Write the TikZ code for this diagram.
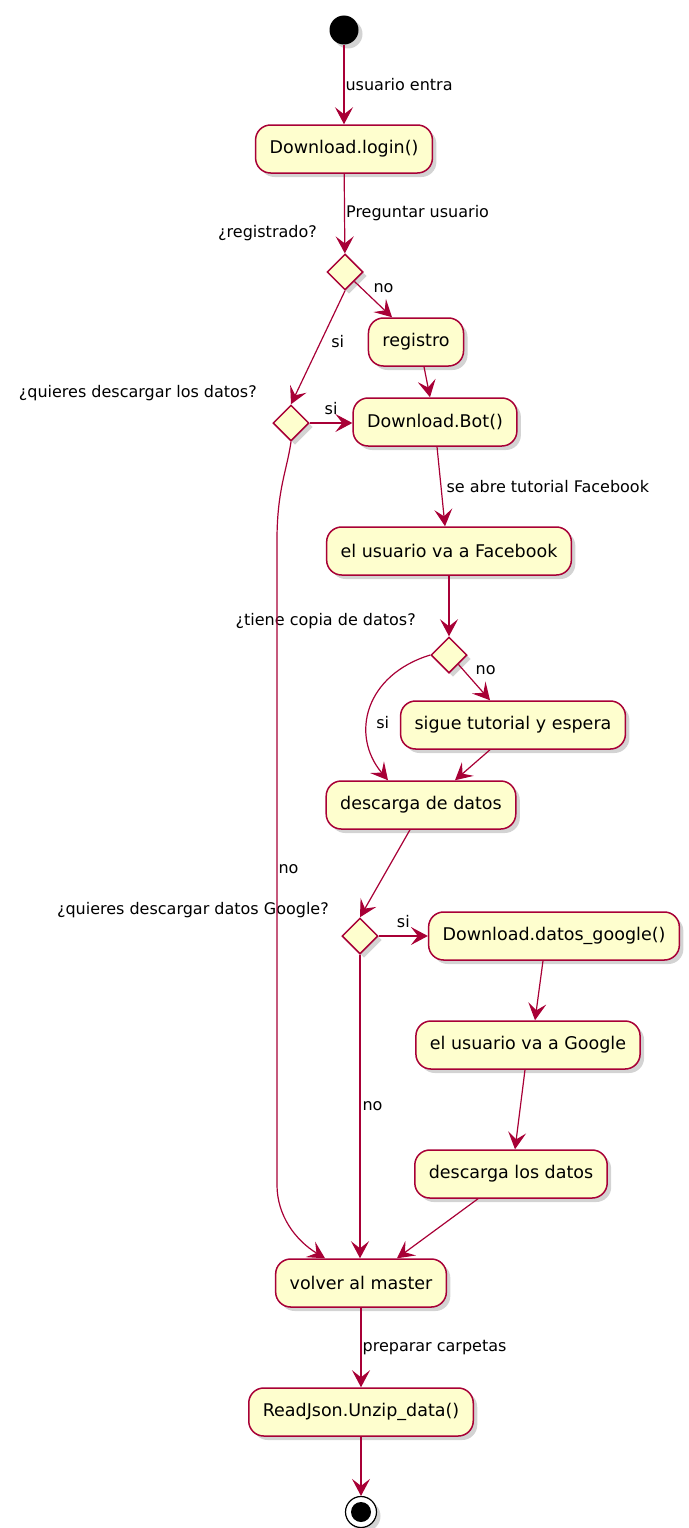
\documentclass[tikz,border=0pt]{standalone}
\usepackage{fontspec}
\setmainfont{DejaVu Sans}
\usetikzlibrary{arrows.meta,shapes.geometric,shadows}
\definecolor{umlred}{HTML}{A80036}
\definecolor{umlfill}{HTML}{FEFECE}
\newcommand{\actfont}{\fontsize{17.5}{21}\selectfont}
\newcommand{\lblfont}{\fontsize{16}{19}\selectfont}

\begin{document}
\begin{tikzpicture}[x=1pt, y=-1pt,
    shade/.style={drop shadow={shadow xshift=4pt, shadow yshift=-4pt, opacity=0.35}},
    act/.style={draw=umlred, fill=umlfill, line width=1.5pt, rounded corners=15pt,
        minimum height=48pt, inner xsep=14pt, font=\actfont, shade},
    dec/.style={diamond, draw=umlred, fill=umlfill, line width=1.5pt,
        minimum width=36pt, minimum height=36pt, inner sep=0pt, shade},
    begin/.style={circle, fill=black, minimum size=29pt, inner sep=0pt, shade},
    stop/.style={circle, draw=black, line width=1.2pt, fill=white, minimum size=31pt, inner sep=0pt, shade,
        path picture={\fill[black] (path picture bounding box.center) circle (10pt);}},
    flow/.style={draw=umlred, line width=1.2pt, -{Stealth[length=17pt, width=18pt, inset=7pt]}},
    lbl/.style={font=\lblfont, inner sep=1pt}]
    \useasboundingbox (0,0) rectangle (688,1528);

    % actividades y decisiones
    \node[begin] (ini) at (344,30) {};
    \node[act] (login) at (344,149) {Download.login()};
    \node[dec] (reg1) at (345,272) {};
    \node[act] (registro) at (416,342) {registro};
    \node[dec] (desc1) at (291,423) {};
    \node[act] (bot) at (435,422) {Download.Bot()};
    \node[act] (fb) at (449,551) {el usuario va a Facebook};
    \node[dec] (copia) at (449,655) {};
    \node[act] (tuto) at (513,725) {sigue tutorial y espera};
    \node[act] (descfb) at (421,805) {descarga de datos};
    \node[dec] (google) at (360,936) {};
    \node[act] (dgoogle) at (554,936) {Download.datos\_google()};
    \node[act] (vagoogle) at (528,1045) {el usuario va a Google};
    \node[act] (descg) at (511,1174) {descarga los datos};
    \node[act] (master) at (361,1283) {volver al master};
    \node[act] (unzip) at (361,1412) {ReadJson.Unzip\_data()};
    \node[stop] (fin) at (361,1512) {};

    % preguntas
    \node[lbl, anchor=east] (q1) at (318,233) {¿registrado?};
    \node[lbl, anchor=east] (q2) at (258,393) {¿quieres descargar los datos?};
    \node[lbl, anchor=east] (q3) at (417,621) {¿tiene copia de datos?};
    \node[lbl, anchor=east] (q4) at (330,910) {¿quieres descargar datos Google?};

    \coordinate (bajaA) at (277,540);
    \coordinate (bajaB) at (277,1185);

    % flujo
    \draw[flow] (ini) -- node[lbl, right] {usuario entra} (login);
    \draw[flow] (login) -- node[lbl, right] {Preguntar usuario} (reg1);
    \draw[flow] (reg1.south east) -- node[lbl, pos=0.2, right=10pt] {no} ([xshift=-24pt]registro.north);
    \draw[flow] (reg1.south) -- node[lbl, pos=0.45, right=9pt] {si} (desc1.north);
    \draw[flow] ([xshift=8pt]registro.south) -- ([xshift=-5pt]bot.north);
    \draw[flow] (desc1.east) -- node[lbl, above=7pt] {si} (desc1.east -| bot.west);
    \draw[flow] ([xshift=2pt]bot.south) -- node[lbl, right=4pt] {se abre tutorial Facebook} ([xshift=-4pt]fb.north);
    \draw[flow] (fb) -- (copia);
    \draw[flow] (copia.south east) -- node[lbl, pos=0.15, right=11pt] {no} ([xshift=-23pt]tuto.north);
    \draw[flow] (copia.west) .. controls (365,675) and (350,735) .. node[lbl, pos=0.6, right=7pt] {si} ([xshift=-33pt]descfb.north);
    \draw[flow] ([xshift=-23pt]tuto.south) -- ([xshift=34pt]descfb.north);
    \draw[flow] ([xshift=-11pt]descfb.south) -- (google.north);
    \draw[flow] (google.east) -- node[lbl, above=7pt] {si} (dgoogle.west);
    \draw[flow] (google.south) -- node[lbl, right=1pt] {no} (google.south |- master.north);
    \draw[flow] ([xshift=-11pt]dgoogle.south) -- ([xshift=7pt]vagoogle.north);
    \draw[flow] ([xshift=-3pt]vagoogle.south) -- ([xshift=4pt]descg.north);
    \draw[flow] ([xshift=-33pt]descg.south) -- ([xshift=36pt]master.north);
    \draw[flow] (desc1.south) .. controls (287,470) and (277,490) .. (bajaA)
        -- node[lbl, pos=0.51, right=0pt] {no} (bajaB)
        .. controls (277,1215) and (295,1240) .. ([xshift=-36pt]master.north);
    \draw[flow] (master) -- node[lbl, right] {preparar carpetas} (unzip);
    \draw[flow] (unzip) -- (fin);
\end{tikzpicture}
\end{document}
